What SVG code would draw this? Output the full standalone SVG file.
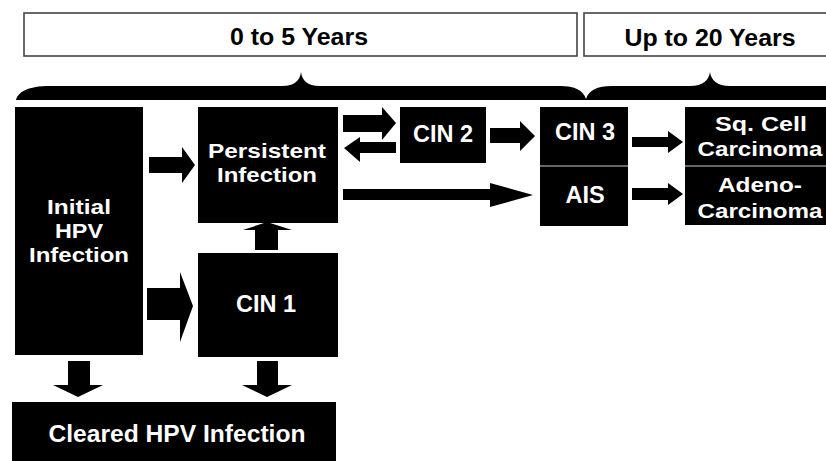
<svg xmlns="http://www.w3.org/2000/svg" width="826" height="461" viewBox="0 0 826 461">
<style>
.hdr{fill:#fff;stroke:#444;stroke-width:1.6}
.ht{font-family:"Liberation Sans",Arial,sans-serif;font-weight:bold;font-size:23px;fill:#000;text-anchor:middle}
.box{fill:#000}
.nt{font-family:"Liberation Sans",Arial,sans-serif;font-weight:bold;font-size:23.5px;fill:#fff;text-anchor:middle}
.ml{font-size:21px}
.div{stroke:#8a8a8a;stroke-width:1.5}
.arr{fill:#000}
</style>
<rect width="826" height="461" fill="#fff"/>
<g id="header-0-5">
<rect class="hdr" x="24" y="13" width="553" height="43"/>
<text class="ht" x="299" y="45" textLength="138" lengthAdjust="spacingAndGlyphs">0 to 5 Years</text>
</g>
<g id="header-20">
<rect class="hdr" x="584" y="13" width="250" height="43"/>
<text class="ht" x="710" y="46" textLength="171" lengthAdjust="spacingAndGlyphs">Up to 20 Years</text>
</g>
<g id="brace">
<path fill="#000" d="M16,100 C18,92 28,86 50,86 L282,86 C295,86 300,80 301,72 C302,80 307,86 320,86 L560,86 C575,86 583,90 586,99 C589,90 597,86 612,86 L690,86 C703,86 709,80 710,72 C711,80 717,86 730,86 L830,86 L830,100 Z"/>
</g>
<g id="initial">
<rect class="box" x="15" y="107" width="128" height="248"/>
<text class="nt ml" x="79" y="214" textLength="64" lengthAdjust="spacingAndGlyphs">Initial</text>
<text class="nt ml" x="79" y="238" textLength="48" lengthAdjust="spacingAndGlyphs">HPV</text>
<text class="nt ml" x="79" y="262" textLength="100" lengthAdjust="spacingAndGlyphs">Infection</text>
</g>
<g id="persistent">
<rect class="box" x="198" y="107" width="140" height="116"/>
<text class="nt ml" x="267" y="158" textLength="118" lengthAdjust="spacingAndGlyphs">Persistent</text>
<text class="nt ml" x="267" y="182" textLength="100" lengthAdjust="spacingAndGlyphs">Infection</text>
</g>
<g id="cin1">
<rect class="box" x="198" y="253" width="140" height="104"/>
<text class="nt" x="266" y="312">CIN 1</text>
</g>
<g id="cleared">
<rect class="box" x="12" y="402" width="324" height="65"/>
<text class="nt" x="177" y="442" textLength="257" lengthAdjust="spacingAndGlyphs">Cleared HPV Infection</text>
</g>
<g id="cin2">
<rect class="box" x="400" y="107" width="86" height="56"/>
<text class="nt" x="443" y="142">CIN 2</text>
</g>
<g id="cin3">
<rect class="box" x="540" y="107" width="88" height="59"/>
<text class="nt" x="585" y="140">CIN 3</text>
</g>
<g id="ais">
<rect class="box" x="540" y="166" width="88" height="60"/>
<text class="nt" x="585" y="203">AIS</text>
<line class="div" x1="540" y1="166" x2="628" y2="166"/>
</g>
<g id="sq-cell">
<rect class="box" x="685" y="107" width="145" height="59"/>
<text class="nt ml" x="761" y="131" textLength="92" lengthAdjust="spacingAndGlyphs">Sq. Cell</text>
<text class="nt ml" x="760" y="156" textLength="125" lengthAdjust="spacingAndGlyphs">Carcinoma</text>
</g>
<g id="adeno">
<rect class="box" x="685" y="166" width="145" height="59"/>
<text class="nt ml" x="760" y="192" textLength="84" lengthAdjust="spacingAndGlyphs">Adeno-</text>
<text class="nt ml" x="760" y="218" textLength="125" lengthAdjust="spacingAndGlyphs">Carcinoma</text>
<line class="div" x1="685" y1="166" x2="830" y2="166"/>
</g>
<g id="connectors">
<polygon class="arr" points="149,157 182,157 182,147 195,165 182,183 182,173 149,173"/>
<polygon class="arr" points="147,288 180,288 180,272 193,306 180,342 180,320 147,320"/>
<polygon class="arr" points="255,250 255,230 243,230 267,222 292,230 278,230 278,250"/>
<polygon class="arr" points="68,361 90,361 90,385 103,385 78,397 53,385 68,385"/>
<polygon class="arr" points="257,361 278,361 278,385 292,385 267,397 242,385 257,385"/>
<polygon class="arr" points="343,115 382,115 382,107 396,123 382,140 382,132 343,132"/>
<polygon class="arr" points="396,142 360,142 360,137 344,148 360,162 360,153 396,153"/>
<polygon class="arr" points="490,128 520,128 520,121 535,136 520,151 520,143 490,143"/>
<polygon class="arr" points="343,189 490,189 490,183 533,195 490,207 490,200 343,200"/>
<polygon class="arr" points="632,137 668,137 668,131 683,142 668,153 668,147 632,147"/>
<polygon class="arr" points="632,188 668,188 668,183 683,194 668,205 668,200 632,200"/>
</g>
</svg>
